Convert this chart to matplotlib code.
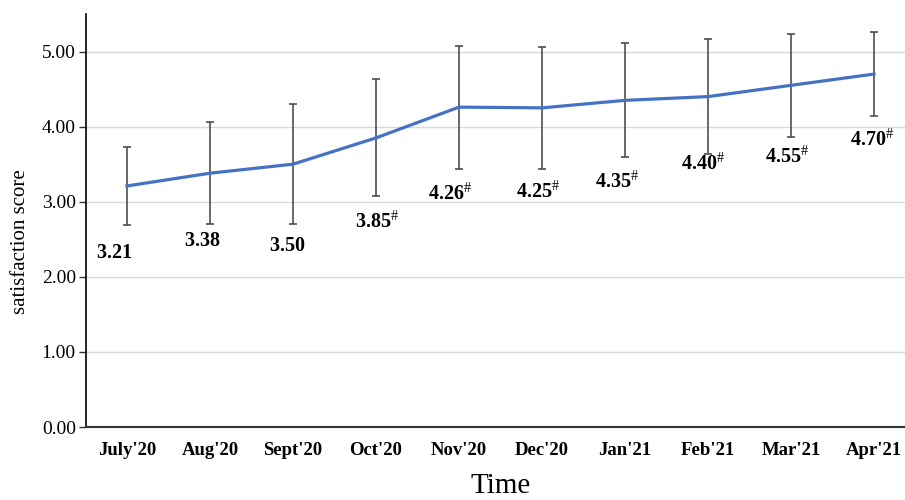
import matplotlib
matplotlib.use("Agg")
import matplotlib.pyplot as plt
import numpy as np

plt.rcParams['font.family'] = ['Liberation Serif', 'DejaVu Serif']
plt.rcParams['mathtext.fontset'] = 'custom'
plt.rcParams['mathtext.rm'] = 'Liberation Serif'
plt.rcParams['mathtext.bf'] = 'Liberation Serif:bold'
plt.rcParams['mathtext.it'] = 'Liberation Serif:italic'

# data
months = ["July'20", "Aug'20", "Sept'20", "Oct'20", "Nov'20",
          "Dec'20", "Jan'21", "Feb'21", "Mar'21", "Apr'21"]
scores = [3.21, 3.38, 3.50, 3.85, 4.26, 4.25, 4.35, 4.40, 4.55, 4.70]
errors = [0.52, 0.68, 0.80, 0.78, 0.82, 0.81, 0.76, 0.77, 0.69, 0.56]
significant = [False, False, False, True, True, True, True, True, True, True]

# label nudges in pixels (dx, dy below lower error cap)
label_dx = [-13, -8, -6, 1, -9, -4, -8, -5, -4, -2]
label_dy = [28, 17, 22, 26, 26, 24, 25, 10, 20, 24]

fig = plt.figure(figsize=(9.05, 5.0), dpi=100)
# left, bottom, width, height
ax = fig.add_axes([85.5 / 905, 73 / 500, 830 / 905, 413 / 500])

x = np.arange(len(months))
ax.errorbar(x, scores, yerr=errors, fmt='none', ecolor='#404040',
            elinewidth=1.1, capsize=3, capthick=1.1, zorder=2)
ax.plot(x, scores, color='#4472C4', linewidth=2.3, zorder=3)

px = 0.72  # pixels -> points
for i, (v, e) in enumerate(zip(scores, errors)):
    if significant[i]:
        txt = r'$\mathbf{%.2f}^{\#}$' % v
    else:
        txt = r'$\mathbf{%.2f}$' % v
    ax.annotate(txt, (x[i], v - e), xytext=(label_dx[i] * px, -label_dy[i] * px),
                textcoords='offset points', ha='center', va='center',
                fontsize=14.5, color='black')

ax.set_xlim(-0.5, len(months) - 0.5)
ax.set_ylim(0, 5.5)
ax.set_yticks([0, 1, 2, 3, 4, 5])
ax.set_yticklabels(['%.2f' % t for t in [0, 1, 2, 3, 4, 5]], fontsize=14)
ax.set_xticks(x)
ax.set_xticklabels(months, fontsize=13.5, fontweight='bold')
ax.tick_params(axis='x', length=0, pad=11)
ax.tick_params(axis='y', length=5, width=1, color='#333333', pad=2)

ax.yaxis.grid(True, color='#D9D9D9', linewidth=1)
ax.set_axisbelow(True)
for s in ['top', 'right']:
    ax.spines[s].set_visible(False)
ax.spines['left'].set_color('black')
ax.spines['left'].set_linewidth(1.2)
ax.spines['bottom'].set_color('#333333')
ax.spines['bottom'].set_linewidth(1.5)

ax.set_ylabel('satisfaction score', fontsize=15)
ax.yaxis.set_label_coords(-0.067, 0.45)
ax.set_xlabel('Time', fontsize=21, labelpad=10)

fig.savefig('out.png', dpi=100)
